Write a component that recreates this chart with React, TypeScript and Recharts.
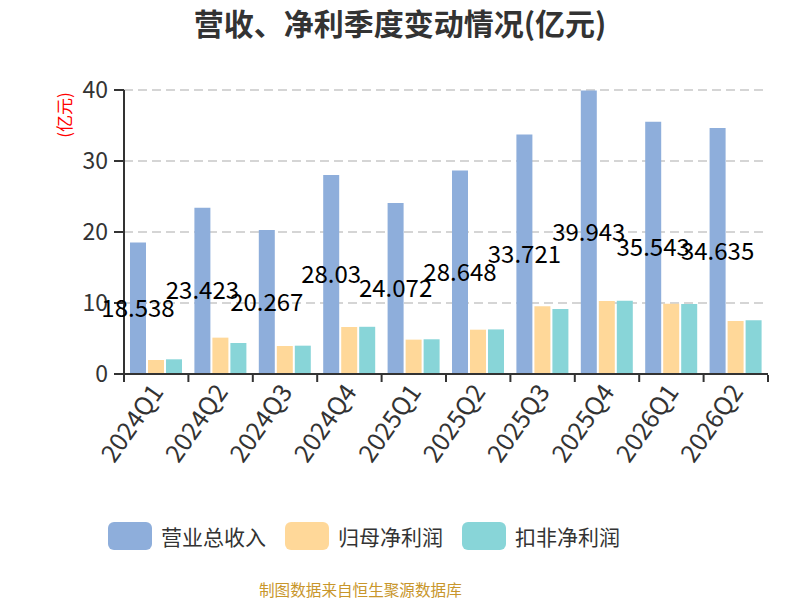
import React from 'react';
import { BarChart, Bar, XAxis, YAxis, CartesianGrid, LabelList } from 'recharts';

const quarters = ['2024Q1', '2024Q2', '2024Q3', '2024Q4', '2025Q1', '2025Q2', '2025Q3', '2025Q4', '2026Q1', '2026Q2'];
const revenue = [18.538, 23.423, 20.267, 28.03, 24.072, 28.648, 33.721, 39.943, 35.543, 34.635];
const netProfit = [1.97, 5.12, 3.94, 6.62, 4.84, 6.24, 9.53, 10.28, 9.9, 7.46];
const deductedProfit = [2.07, 4.37, 3.99, 6.65, 4.89, 6.28, 9.15, 10.33, 9.86, 7.56];
const yTicks = [0, 10, 20, 30, 40];

const SERIES = [
  { key: 'revenue', name: '营业总收入', color: '#8eaedb' },
  { key: 'netProfit', name: '归母净利润', color: '#ffd899' },
  { key: 'deductedProfit', name: '扣非净利润', color: '#88d5d8' },
];

const data = quarters.map((q, i) => ({
  quarter: q,
  revenue: revenue[i],
  netProfit: netProfit[i],
  deductedProfit: deductedProfit[i],
}));

const FONT = '"Noto Sans CJK SC", "Noto Sans", sans-serif';
const CHART_LEFT = 124;
const CHART_RIGHT = 32;
const BAND = (800 - CHART_LEFT - CHART_RIGHT) / quarters.length;

// echarts-style ticks: marks sit on the category boundaries, not the centres
const XTick: React.FC<any> = ({ x, y, payload, index }) => {
  const last = index === quarters.length - 1;
  return (
    <g>
      <line x1={x - BAND / 2} x2={x - BAND / 2} y1={y - 8} y2={y - 1} stroke="#333" strokeWidth={2} />
      {last && <line x1={x + BAND / 2} x2={x + BAND / 2} y1={y - 8} y2={y - 1} stroke="#333" strokeWidth={2} />}
      <g transform={`translate(${x + 1},${y + 4})`}>
        <text textAnchor="end" transform="rotate(-55)" fontSize={25} fill="#333" fontFamily={FONT} dy={9}>
          {payload.value}
        </text>
      </g>
    </g>
  );
};

const YUnitLabel: React.FC<any> = ({ viewBox }) => {
  const cx = viewBox.x + 63;
  const cy = viewBox.y + 25;
  return (
    <text x={cx} y={cy} transform={`rotate(-90, ${cx}, ${cy})`} textAnchor="middle" dominantBaseline="central"
      fontSize={17} fill="#ff0000" fontFamily={FONT}>
      (亿元)
    </text>
  );
};

const App: React.FC = () => {
  return (
    <div style={{ position: 'absolute', left: 0, top: 0, width: 800, height: 600, background: '#fff', fontFamily: FONT }}>
      <div style={{ position: 'absolute', top: 0, width: 800, textAlign: 'center', fontSize: 30, fontWeight: 'bold', color: '#333' }}>
        营收、净利季度变动情况(亿元)
      </div>
      <BarChart
        width={800}
        height={600}
        data={data}
        margin={{ top: 90, right: CHART_RIGHT, left: 0, bottom: 126 }}
        barSize={16}
        barGap={2}
      >
        <CartesianGrid vertical={false} stroke="#c8c8c8" strokeDasharray="9 5" strokeWidth={1.5} />
        <XAxis
          dataKey="quarter"
          height={100}
          interval={0}
          tick={<XTick />}
          tickSize={7}
          tickLine={false}
          axisLine={{ stroke: '#333', strokeWidth: 2 }}
        />
        <YAxis
          width={CHART_LEFT}
          domain={[0, 40]}
          ticks={yTicks}
          tickSize={10}
          tickMargin={6}
          tick={{ fontSize: 23, fill: '#333', fontFamily: FONT }}
          axisLine={{ stroke: '#333', strokeWidth: 2 }}
          tickLine={{ stroke: '#333', strokeWidth: 2 }}
          label={<YUnitLabel />}
        />
        {SERIES.map((s) => (
          <Bar key={s.key} dataKey={s.key} name={s.name} fill={s.color} isAnimationActive={false}>
            {s.key === 'revenue' && (
              <LabelList dataKey="revenue" position="center" fill="#000" fontSize={24} fontFamily={FONT} />
            )}
          </Bar>
        ))}
      </BarChart>
      <div style={{ position: 'absolute', top: 522, left: 108, display: 'flex', alignItems: 'center', height: 28 }}>
        {SERIES.map((s) => (
          <div key={s.key} style={{ display: 'flex', alignItems: 'center', marginRight: 19 }}>
            <div style={{ width: 44, height: 28, borderRadius: 6, background: s.color, marginRight: 9 }} />
            <span style={{ fontSize: 21, color: '#333', lineHeight: '28px' }}>{s.name}</span>
          </div>
        ))}
      </div>
      <div style={{ position: 'absolute', top: 578, left: 259, fontSize: 15.6, color: '#c8962b', lineHeight: '22px' }}>
        制图数据来自恒生聚源数据库
      </div>
    </div>
  );
};

export default App;
